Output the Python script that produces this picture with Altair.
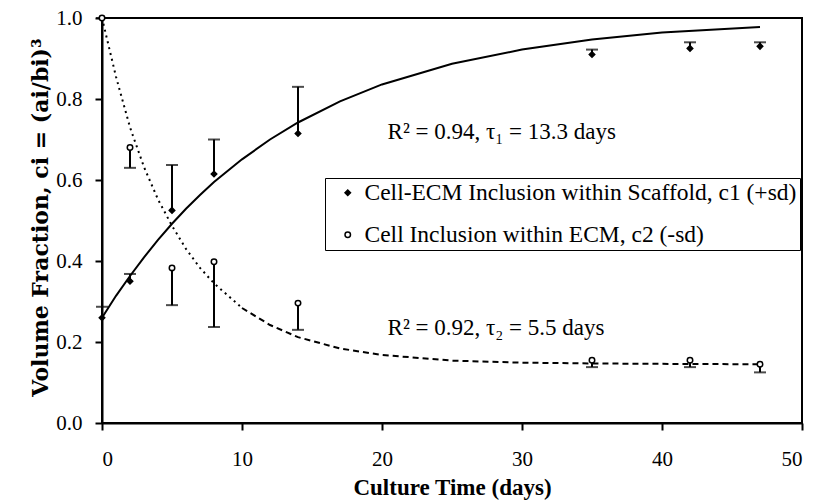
import altair as alt
import pandas as pd

days = [0, 2, 5, 8, 14, 35, 42, 47]
c1_mean = [0.26, 0.35, 0.525, 0.615, 0.715, 0.91, 0.925, 0.93]
c1_sd_hi = [0.287, 0.368, 0.637, 0.70, 0.83, 0.922, 0.94, 0.94]
c2_mean = [1.0, 0.68, 0.383, 0.398, 0.296, 0.155, 0.155, 0.145]
c2_sd_lo = [1.0, 0.63, 0.291, 0.237, 0.23, 0.138, 0.138, 0.125]

# Fitted curves
fit_t = [0, 1, 2, 3, 4, 5, 6, 7, 8, 10, 12, 14, 17, 20, 25, 30, 35, 40, 47]
c1_fit = [0.26, 0.314, 0.363, 0.409, 0.452, 0.492, 0.529, 0.563, 0.595, 0.651,
          0.700, 0.742, 0.794, 0.836, 0.887, 0.922, 0.947, 0.964, 0.978]
c2_fit = [1.0, 0.855, 0.73, 0.632, 0.552, 0.487, 0.43, 0.383, 0.345, 0.284,
          0.242, 0.212, 0.184, 0.168, 0.154, 0.149, 0.147, 0.146, 0.145]

series_names = ["Cell-ECM Inclusion within Scaffold, c1 (+sd)",
                "Cell Inclusion within ECM, c2 (-sd)"]

ann_text = ["R² = 0.94, τ₁ = 13.3 days", "R² = 0.92, τ₂ = 5.5 days"]
ann_t = [20.4, 20.4]
ann_y = [0.718, 0.235]

FONT = "Liberation Serif"

pts = pd.DataFrame(
    {"t": days + days,
     "v": c1_mean + c2_mean,
     "err": c1_sd_hi + c2_sd_lo,
     "series": [series_names[0]] * len(days) + [series_names[1]] * len(days)}
)
fit = pd.DataFrame({"t": fit_t, "c1": c1_fit, "c2": c2_fit})
ann = pd.DataFrame({"t": ann_t, "y": ann_y, "label": ann_text})

xs = alt.Scale(domain=[0, 50], nice=False)
ys = alt.Scale(domain=[0, 1], nice=False)

x_axis = alt.Axis(values=[0, 10, 20, 30, 40, 50], title="Culture Time (days)",
                  titleY=64, titleBaseline="middle", titleFontSize=23)
y_axis = alt.Axis(values=[0, 0.2, 0.4, 0.6, 0.8, 1.0], format=".1f",
                  title="Volume Fraction, ci = (ai/bi)³",
                  titleX=-62, titleY=199, titleBaseline="middle",
                  titleFont="DejaVu Serif", titleFontSize=22)

base_fit = alt.Chart(fit)

c1_line = base_fit.mark_line(color="black", strokeWidth=2).encode(
    x=alt.X("t:Q", scale=xs, axis=x_axis),
    y=alt.Y("c1:Q", scale=ys, axis=y_axis),
)
c2_dot = base_fit.transform_filter(alt.datum.t <= 10).mark_line(
    color="black", strokeWidth=2, strokeDash=[2, 4]
).encode(x=alt.X("t:Q", scale=xs), y=alt.Y("c2:Q", scale=ys))
c2_dash = base_fit.transform_filter(alt.datum.t >= 10).mark_line(
    color="black", strokeWidth=2, strokeDash=[6, 4]
).encode(x=alt.X("t:Q", scale=xs), y=alt.Y("c2:Q", scale=ys))

base_pts = alt.Chart(pts)
err_rule = base_pts.mark_rule(color="black", strokeWidth=2).encode(
    x=alt.X("t:Q", scale=xs), y=alt.Y("v:Q", scale=ys), y2="err:Q"
)
err_cap = base_pts.mark_tick(color="black", orient="horizontal", size=12,
                             thickness=2).encode(
    x=alt.X("t:Q", scale=xs), y=alt.Y("err:Q", scale=ys)
)
leg = alt.Legend(title=None, orient="none", legendX=223, legendY=160)
points = base_pts.mark_point(filled=False, strokeWidth=1.5,
                             opacity=1, fillOpacity=1, strokeOpacity=1, size=30).encode(
    x=alt.X("t:Q", scale=xs),
    y=alt.Y("v:Q", scale=ys),
    shape=alt.Shape("series:N",
                    scale=alt.Scale(domain=series_names, range=["diamond", "circle"]),
                    legend=leg),
    fill=alt.Fill("series:N",
                  scale=alt.Scale(domain=series_names, range=["black", "white"]),
                  legend=leg),
    stroke=alt.Stroke("series:N",
                      scale=alt.Scale(domain=series_names, range=["black", "black"]),
                      legend=leg),
)

texts = alt.Chart(ann).mark_text(align="left", baseline="middle", font=FONT,
                                 fontSize=23, color="black").encode(
    x=alt.X("t:Q", scale=xs), y=alt.Y("y:Q", scale=ys), text="label:N"
)

chart = alt.layer(c1_line, c2_dot, c2_dash, err_rule, err_cap, points, texts).properties(
    width=700, height=405,
    autosize=alt.AutoSizeParams(type="none"),
    padding={"left": 102, "top": 18, "right": 14, "bottom": 81},
    background="white",
).configure(font=FONT).configure_view(stroke="black", strokeWidth=2).configure_axis(
    domainColor="black", domainWidth=2, tickColor="black", tickWidth=2, tickSize=7,
    grid=False, labelFont=FONT, labelFontSize=21, labelColor="black",
    titleFont=FONT, titleFontWeight="bold", titleColor="black",
).configure_axisY(labelPadding=13).configure_axisX(labelPadding=18).configure_legend(
    strokeColor="black", fillColor="white", padding=3, symbolOffset=8, rowPadding=17,
    labelFont=FONT, labelFontSize=23.5, labelLimit=0, labelOffset=5, labelColor="black",
    symbolSize=30, symbolStrokeWidth=1.5,
)

chart.save("out.html", embed_options={"renderer": "svg", "actions": False})
